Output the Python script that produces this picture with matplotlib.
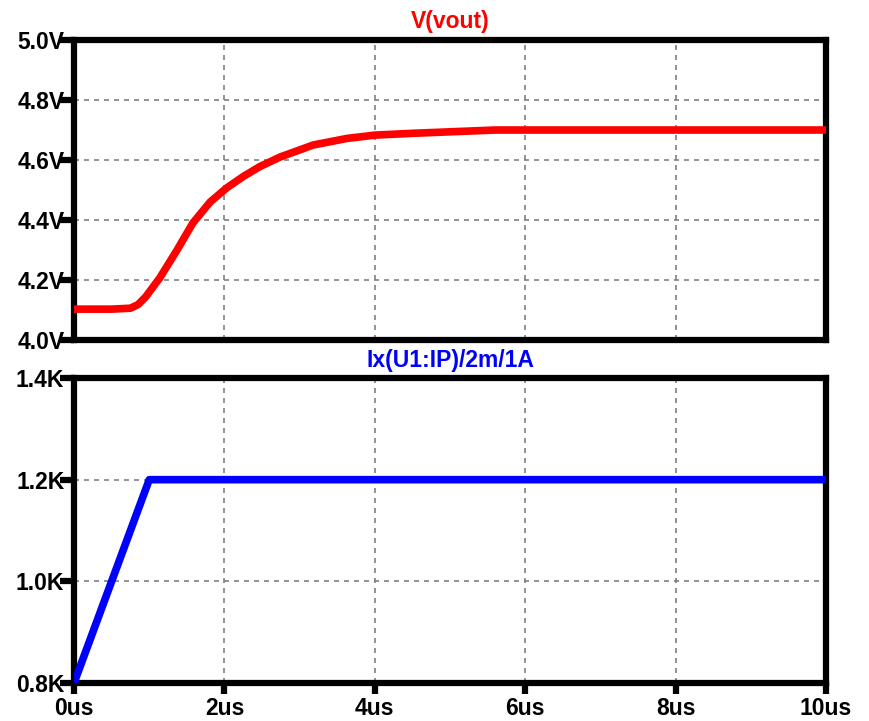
import matplotlib.pyplot as plt
import numpy as np

# V(vout) trace (us, V)
t_v = [0, 0.5, 0.75, 0.85, 0.95, 1.14, 1.37, 1.58, 1.81, 2.03, 2.25, 2.47,
       2.74, 3.18, 3.63, 4.0, 4.5, 5.0, 5.6, 8.0, 10.0]
vout = [4.103, 4.103, 4.106, 4.118, 4.143, 4.207, 4.30, 4.39, 4.46, 4.507, 4.545, 4.578,
        4.61, 4.65, 4.672, 4.683, 4.689, 4.694, 4.70, 4.70, 4.70]

# Ix(U1:IP)/2m/1A trace (in K)
t_i = [0, 1.0, 10.0]
ix = [0.8, 1.2, 1.2]

x_ticks = [0, 2, 4, 6, 8, 10]
x_labels = ['0us', '2us', '4us', '6us', '8us', '10us']
v_ticks = [4.0, 4.2, 4.4, 4.6, 4.8, 5.0]
v_labels = ['4.0V', '4.2V', '4.4V', '4.6V', '4.8V', '5.0V']
i_ticks = [0.8, 1.0, 1.2, 1.4]
i_labels = ['0.8K', '1.0K', '1.2K', '1.4K']

plt.rcParams['font.family'] = ['Liberation Sans', 'DejaVu Sans']

fig = plt.figure(figsize=(8.69, 7.21), dpi=100)
ax1 = fig.add_axes([0.0852, 0.5284, 0.8654, 0.4161])
ax2 = fig.add_axes([0.0852, 0.0527, 0.8654, 0.4230])


def style(ax, yticks, ylabels, show_x):
    ax.set_xlim(0, 10)
    ax.set_ylim(yticks[0], yticks[-1])
    for s in ax.spines.values():
        s.set_linewidth(4.5)
        s.set_color('black')
    ax.set_yticks(yticks)
    ax.set_yticklabels(ylabels, fontsize=16.5, fontweight='bold')
    ax.set_xticks(x_ticks)
    if show_x:
        ax.set_xticklabels(x_labels, fontsize=16.5, fontweight='bold')
        ax.tick_params(axis='x', direction='out', length=8, width=4.5, pad=2)
    else:
        ax.set_xticklabels([])
        ax.tick_params(axis='x', length=0)
    ax.tick_params(axis='y', direction='out', length=10, width=4.5, pad=-3)
    ax.grid(True, color='#808080', linestyle=(0, (3, 3)), linewidth=1.2)
    ax.set_axisbelow(True)


ax1.plot(t_v, vout, color='#ff0000', linewidth=5.5, solid_capstyle='round',
         solid_joinstyle='round', zorder=3)
style(ax1, v_ticks, v_labels, False)
ax1.set_title('V(vout)', color='#ff0000', fontsize=16.5, fontweight='bold', pad=9)

ax2.plot(t_i, ix, color='#0000ff', linewidth=5.5, solid_capstyle='round',
         solid_joinstyle='round', zorder=3)
style(ax2, i_ticks, i_labels, True)
ax2.set_title('Ix(U1:IP)/2m/1A', color='#0000ff', fontsize=16.5, fontweight='bold', pad=8)

fig.savefig('out.png', dpi=100)
